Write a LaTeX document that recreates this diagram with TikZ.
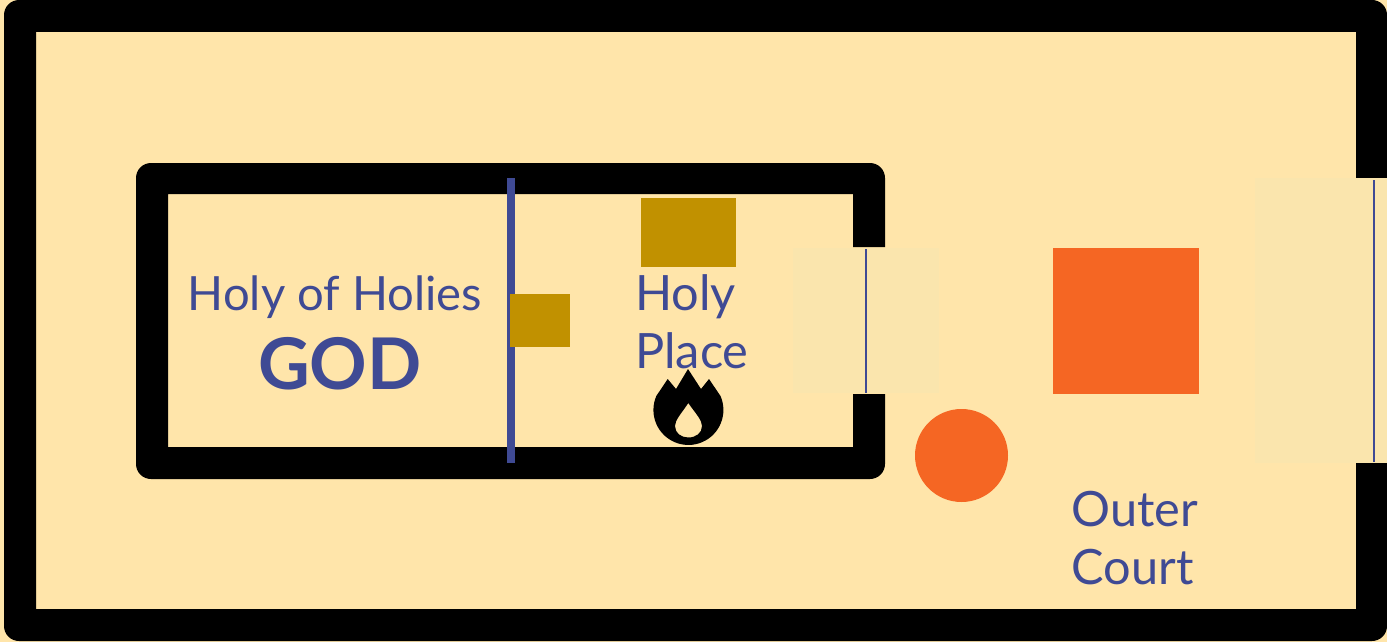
\documentclass[tikz,border=0pt]{standalone}
\usepackage{fontspec}
\setmainfont{Lato}
\definecolor{cream}{HTML}{FFE5AA}
\definecolor{paleband}{HTML}{FAE5AD}
\definecolor{indigoline}{HTML}{3F4A94}
\definecolor{goldbox}{HTML}{C19100}
\definecolor{orangeshape}{HTML}{F56623}
\tikzset{
  wall/.style={fill=black,draw=none},
  roomlabel/.style={text=indigoline,font=\fontsize{48.7}{58}\selectfont,inner sep=0pt,align=left},
  band/.style={fill=paleband,draw=none},
  veilline/.style={indigoline,line width=2pt},
}
\begin{document}
\begin{tikzpicture}[x=1pt,y=-1pt]
\useasboundingbox (0,0) rectangle (1387,642);
\fill[cream] (0,0) rectangle (1387,642);
% outer wall
\fill[wall] (1387,178) -- (1356,178) -- (1356,32) -- (36,32) -- (36,609) -- (1356,609) -- (1356,463) -- (1387,463)
  -- (1387,626) arc[start angle=0,end angle=90,radius=15] -- (19,641)
  arc[start angle=90,end angle=180,radius=15] -- (4,15)
  arc[start angle=180,end angle=270,radius=15] -- (1372,0)
  arc[start angle=270,end angle=360,radius=15] -- cycle;
% inner wall
\fill[wall] (885,247) -- (853,247) -- (853,194) -- (168,194) -- (168,447) -- (853,447) -- (853,394) -- (885,394)
  -- (885,464) arc[start angle=0,end angle=90,radius=15] -- (151,479)
  arc[start angle=90,end angle=180,radius=15] -- (136,178)
  arc[start angle=180,end angle=270,radius=15] -- (870,163)
  arc[start angle=270,end angle=360,radius=15] -- cycle;
% bands
\fill[band] (793,248) rectangle (939,393);
\fill[band] (1255,178) rectangle (1387,463);
\coordinate (v1a) at (865.5,249);
\coordinate (v1b) at (865.5,393);
\coordinate (v2a) at (1373.5,180);
\coordinate (v2b) at (1373.5,462);
\draw[veilline] (v1a) -- (v1b);
\draw[veilline] (v2a) -- (v2b);
% curtain
\coordinate (ca) at (511,178);
\coordinate (cb) at (511,463);
\draw[indigoline,line width=7.5pt] (ca) -- (cb);
% furniture
\fill[goldbox] (641,198) rectangle (736,267);
\fill[goldbox] (510,294) rectangle (570,347);
\fill[orangeshape] (1053,248) rectangle (1199,394);
\fill[orangeshape] (961.5,455.5) circle[radius=46.5];
% flame
\fill[black,even odd rule] (688,369) -- (701,389) -- (709,379) -- (720.5,396)
  arc[start angle=-23.5,end angle=203.5,radius=35]
  -- (667.7,379) -- (676,389) -- cycle
  (688.3,403) .. controls (681,414) and (675,420) .. (675,426)
  .. controls (675,433) and (681,437.5) .. (688.3,437.5)
  .. controls (696,437.5) and (702,433) .. (702,426)
  .. controls (702,420) and (696,414) .. (688.3,403) -- cycle;
% text
\node[roomlabel,font=\fontsize{47.2}{58}\selectfont,anchor=base] (hoh) at (335,310) {Holy of Holies};
\node[text=indigoline,font=\fontsize{71.3}{80}\bfseries\selectfont,inner sep=0pt,anchor=base] (god) at (339.8,389.5) {GOD};
\node[roomlabel,anchor=base west] (hp1) at (635,310) {Holy};
\node[roomlabel,anchor=base west] (hp2) at (635,368) {Place};
\node[roomlabel,anchor=base west] (oc1) at (1071.5,526) {Outer};
\node[roomlabel,anchor=base west] (oc2) at (1071.5,584) {Court};
\end{tikzpicture}
\end{document}
